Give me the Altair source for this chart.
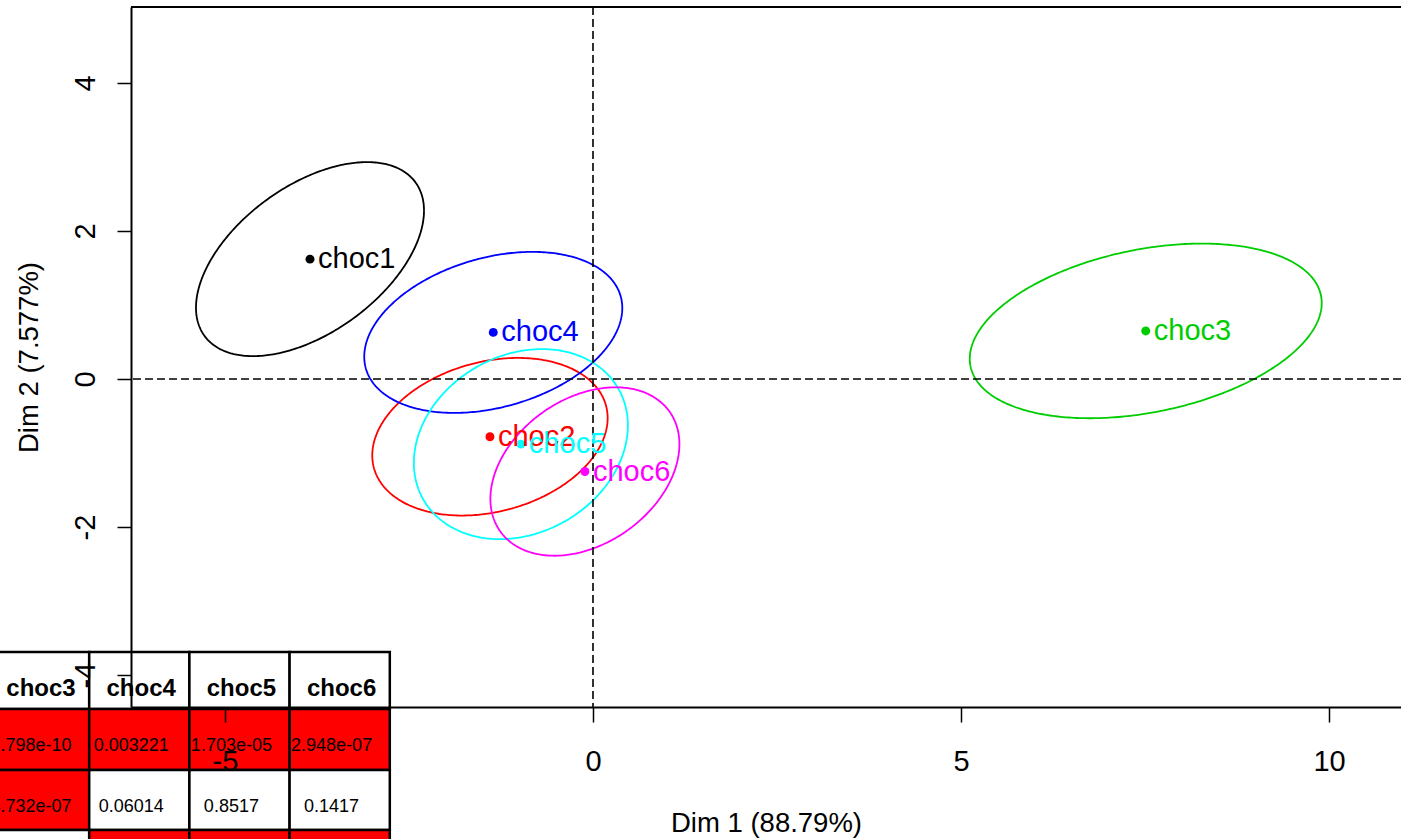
import altair as alt
import numpy as np
import pandas as pd

# ---- product coordinates on the first two dimensions ----
products = ["choc1", "choc2", "choc3", "choc4", "choc5", "choc6"]
dim1 = [-3.845, -1.40, 7.51, -1.355, -0.98, -0.11]
dim2 = [1.62, -0.78, 0.65, 0.63, -0.88, -1.25]
colors = ["#000000", "#FF0000", "#00CD00", "#0000FF", "#00FFFF", "#FF00FF"]

# ---- confidence ellipses: half extent along each axis and x/y correlation ----
ell_half_x = [1.549, 1.599, 2.391, 1.753, 1.454, 1.284]
ell_half_y = [1.311, 1.065, 1.180, 1.088, 1.284, 1.138]
ell_corr = [0.50, 0.237, 0.319, 0.302, 0.197, 0.324]

x_ticks = [-5, 0, 5, 10]
y_ticks = [-4, -2, 0, 2, 4]

# ---- pairwise test table (p-values), visible columns ----
tbl_cols = ["choc3", "choc4", "choc5", "choc6"]
tbl_pvalues = [
    ["1.798e-10", "0.003221", "1.703e-05", "2.948e-07"],
    ["4.732e-07", "0.06014", "0.8517", "0.1417"],
    ["", "", "", ""],
]
tbl_signif = [
    [True, True, True, True],
    [True, False, False, False],
    [False, True, True, True],
]

FONT = "Liberation Sans"
W, H = 1270, 700
PAD_L, PAD_T = 131, 7
X_DOM = [-6.277, 10.978]
Y_DOM = [-4.432, 5.027]

# ---- ellipse outlines ----
t = np.linspace(0, 2 * np.pi, 361)
rows = []
for p, cx, cy, hx, hy, r in zip(products, dim1, dim2, ell_half_x, ell_half_y, ell_corr):
    ex = cx + hx * np.cos(t)
    ey = cy + hy * (r * np.cos(t) + np.sqrt(1 - r * r) * np.sin(t))
    for i, (a, b) in enumerate(zip(ex, ey)):
        rows.append({"product": p, "i": i, "x": a, "y": b})
ell_df = pd.DataFrame(rows)
pts_df = pd.DataFrame({"product": products, "x": dim1, "y": dim2})

xs = alt.Scale(domain=X_DOM, nice=False, zero=False)
ys = alt.Scale(domain=Y_DOM, nice=False, zero=False)
cs = alt.Scale(domain=products, range=colors)

x_axis = alt.Axis(
    orient="bottom", values=x_ticks, title="Dim 1 (88.79%)", grid=False,
    domainColor="black", domainWidth=2, tickColor="black", tickWidth=1.5, tickSize=15,
    labelFont=FONT, labelFontSize=29, labelColor="black", labelPadding=48,
    labelBaseline="alphabetic", labelFlush=False, labelOverlap=False,
    labelExpr="datum.value + ''",
    titleFont=FONT, titleFontSize=27.5, titleFontWeight="normal", titleColor="black",
    titleX=W / 2, titleY=124, titleAlign="center", titleBaseline="alphabetic", zindex=1,
)
y_axis = alt.Axis(
    orient="left", values=y_ticks, title="Dim 2 (7.577%)", grid=False,
    domainColor="black", domainWidth=2, tickColor="black", tickWidth=1.5, tickSize=14,
    labelFont=FONT, labelFontSize=29, labelColor="black", labelPadding=23,
    labelAngle=270, labelAlign="center", labelBaseline="alphabetic",
    labelFlush=False, labelOverlap=False, labelExpr="datum.value + ''",
    titleFont=FONT, titleFontSize=27.5, titleFontWeight="normal", titleColor="black",
    titleAngle=270, titleX=-94, titleY=H / 2, titleAlign="center", titleBaseline="alphabetic",
    zindex=1,
)

ellipses = alt.Chart(ell_df).mark_line(strokeWidth=1.8).encode(
    x=alt.X("x:Q", scale=xs, axis=x_axis),
    y=alt.Y("y:Q", scale=ys, axis=y_axis),
    color=alt.Color("product:N", scale=cs, legend=None),
    detail="product:N",
    order="i:Q",
)

vline = alt.Chart(pd.DataFrame({"x": [0]})).mark_rule(
    color="black", strokeWidth=1.6, strokeDash=[8, 4]
).encode(x=alt.X("x:Q", scale=xs))
hline = alt.Chart(pd.DataFrame({"y": [0]})).mark_rule(
    color="black", strokeWidth=1.6, strokeDash=[8, 4]
).encode(y=alt.Y("y:Q", scale=ys))

points = alt.Chart(pts_df).mark_circle(size=80, opacity=1).encode(
    x=alt.X("x:Q", scale=xs),
    y=alt.Y("y:Q", scale=ys),
    color=alt.Color("product:N", scale=cs, legend=None),
)
labels = alt.Chart(pts_df).mark_text(
    align="left", baseline="middle", dx=8, font=FONT, fontSize=29
).encode(
    x=alt.X("x:Q", scale=xs),
    y=alt.Y("y:Q", scale=ys),
    text="product:N",
    color=alt.Color("product:N", scale=cs, legend=None),
)

top_border = alt.Chart().mark_rule(color="black", strokeWidth=2).encode(
    x=alt.value(0), x2=alt.value(W), y=alt.value(0)
)

plot = alt.layer(ellipses, vline, hline, points, labels, top_border)

# ---- table drawn in pixel space below / left of the plot ----
col_left0 = -11 - PAD_L
col_w = 100.2
row_tops = [652 - PAD_T, 709 - PAD_T, 770 - PAD_T, 830 - PAD_T, 890 - PAD_T]

cells, texts = [], []
for j, name in enumerate(tbl_cols):
    x0 = col_left0 + j * col_w
    cells.append({"x": x0, "x2": x0 + col_w, "y": row_tops[0], "y2": row_tops[1], "fill": "white"})
    texts.append({"x": x0 + 52, "y": row_tops[0] + 44, "text": name, "bold": "bold"})
    for i, (vals, sig) in enumerate(zip(tbl_pvalues, tbl_signif)):
        cells.append({"x": x0, "x2": x0 + col_w, "y": row_tops[i + 1], "y2": row_tops[i + 2],
                      "fill": "#FF0000" if sig[j] else "white"})
        if vals[j]:
            texts.append({"x": x0 + 42, "y": row_tops[i + 1] + 42, "text": vals[j],
                          "bold": "normal"})
cell_df = pd.DataFrame(cells)
text_df = pd.DataFrame(texts)

tbl_cells = alt.Chart(cell_df).mark_rect(stroke="black", strokeWidth=2.5).encode(
    x=alt.X("x:Q", scale=None, axis=None),
    x2="x2:Q",
    y=alt.Y("y:Q", scale=None, axis=None),
    y2="y2:Q",
    fill=alt.Fill("fill:N", scale=None, legend=None),
)
hdr_text = alt.Chart(text_df[text_df.bold == "bold"]).mark_text(
    font=FONT, fontSize=24, fontWeight="bold", align="center", baseline="alphabetic", color="black"
).encode(
    x=alt.X("x:Q", scale=None, axis=None),
    y=alt.Y("y:Q", scale=None, axis=None),
    text="text:N",
)
val_text = alt.Chart(text_df[text_df.bold == "normal"]).mark_text(
    font=FONT, fontSize=18, align="center", baseline="alphabetic", color="black"
).encode(
    x=alt.X("x:Q", scale=None, axis=None),
    y=alt.Y("y:Q", scale=None, axis=None),
    text="text:N",
)
table = alt.layer(tbl_cells, hdr_text, val_text)

chart = (
    alt.layer(table, plot)
    .resolve_scale(x="independent", y="independent")
    .properties(
        width=W, height=H,
        padding={"left": PAD_L, "top": PAD_T, "right": 0, "bottom": 839 - PAD_T - H},
        autosize=alt.AutoSizeParams(type="none"),
        background="white",
    )
    .configure_view(stroke=None)
)

chart.save("out.html", embed_options={"renderer": "svg", "actions": False})
